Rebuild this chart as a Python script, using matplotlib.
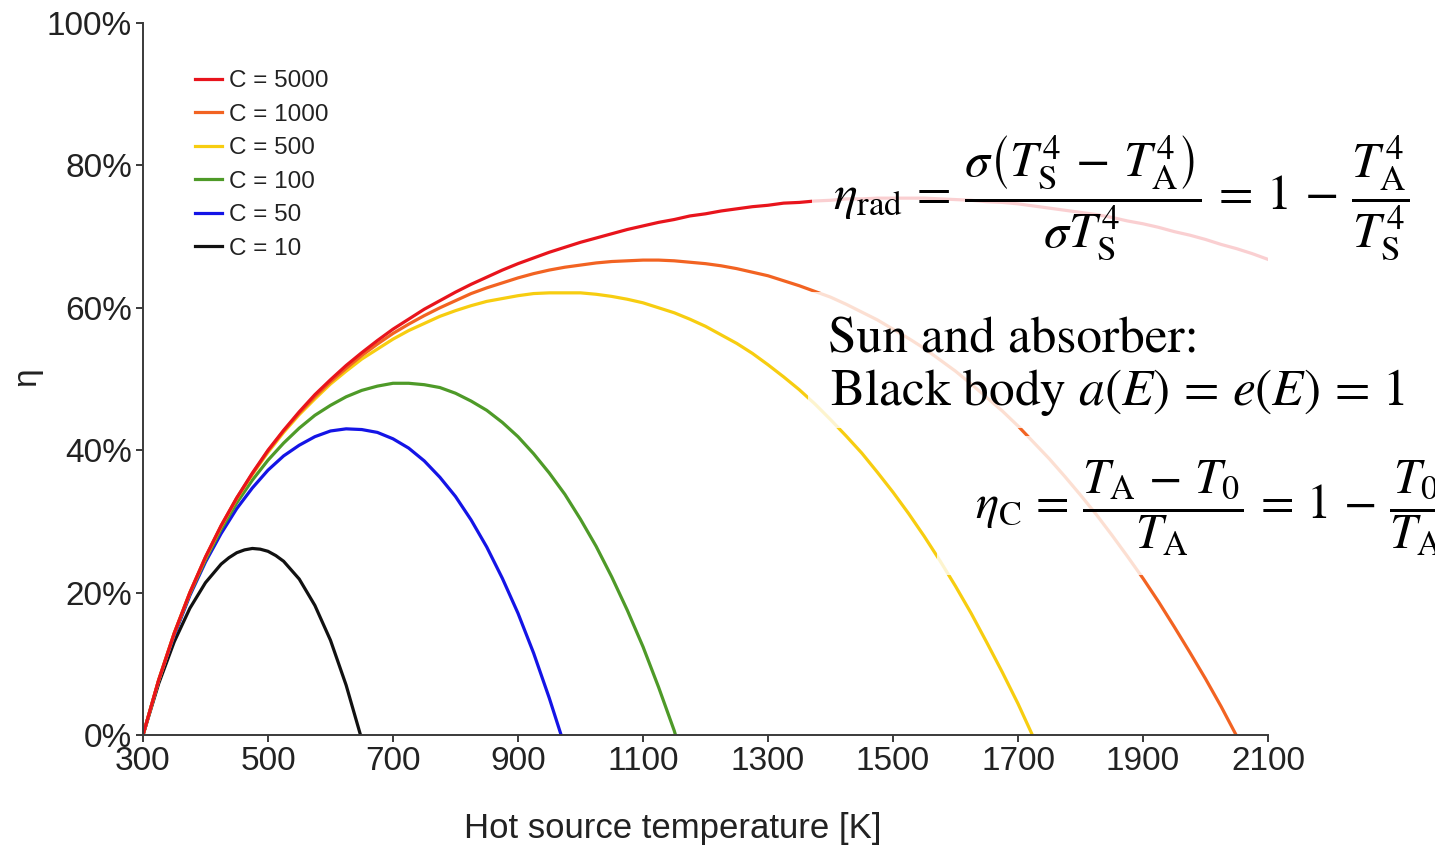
# Overall efficiency of a solar thermal converter vs hot source temperature

import matplotlib
matplotlib.use('Agg')
import matplotlib.pyplot as plt
from matplotlib.ticker import PercentFormatter
from matplotlib.patches import Rectangle

plt.rcParams['font.family'] = ['Liberation Sans', 'DejaVu Sans']
plt.rcParams['mathtext.fontset'] = 'stix'

T_grid = list(range(300, 2101, 25))

eta_5000 = [0, 7.7, 14.3, 20.0, 25.0, 29.4, 33.3, 36.8, 40.0, 42.8, 45.4, 47.8, 49.9, 51.9,
            53.7, 55.4, 57.0, 58.4, 59.8, 61.0, 62.2, 63.3, 64.3, 65.3, 66.2, 67.0, 67.8,
            68.5, 69.2, 69.8, 70.4, 71.0, 71.5, 72.0, 72.4, 72.9, 73.2, 73.6, 73.9, 74.2,
            74.4, 74.7, 74.8, 75.0, 75.1, 75.3, 75.3, 75.4, 75.4, 75.4, 75.4, 75.3, 75.2,
            75.1, 74.9, 74.8, 74.6, 74.3, 74.0, 73.7, 73.4, 73.1, 72.7, 72.2, 71.8, 71.3,
            70.7, 70.2, 69.6, 68.9, 68.3, 67.6, 66.8]
T_5000 = T_grid

eta_1000 = [0, 7.7, 14.3, 20.0, 25.0, 29.4, 33.3, 36.7, 39.9, 42.7, 45.2, 47.5, 49.6, 51.5,
            53.3, 54.9, 56.4, 57.7, 58.9, 60.0, 61.0, 62.0, 62.8, 63.5, 64.2, 64.8, 65.3,
            65.7, 66.0, 66.3, 66.5, 66.6, 66.7, 66.7, 66.6, 66.4, 66.2, 65.9, 65.5, 65.0,
            64.5, 63.8, 63.1, 62.3, 61.5, 60.5, 59.4, 58.3, 57.0, 55.7, 54.3, 52.7, 51.1,
            49.3, 47.4, 45.5, 43.4, 41.1, 38.8, 36.3, 33.7, 31.0, 28.1, 25.1, 22.0, 18.7,
            15.2, 11.6, 7.9, 4.0, 0.0]
T_1000 = T_grid[:70] + [2049]

eta_500 = [0, 7.7, 14.3, 20.0, 24.9, 29.3, 33.2, 36.6, 39.7, 42.5, 45.0, 47.2, 49.3, 51.1,
           52.8, 54.2, 55.6, 56.8, 57.8, 58.8, 59.6, 60.3, 60.9, 61.3, 61.7, 62.0, 62.1,
           62.1, 62.1, 61.9, 61.6, 61.2, 60.7, 60.0, 59.3, 58.4, 57.4, 56.2, 55.0, 53.6,
           52.0, 50.3, 48.5, 46.5, 44.3, 42.0, 39.6, 36.9, 34.1, 31.1, 27.9, 24.5, 20.9,
           17.1, 13.0, 8.8, 4.4, 0.0]
T_500 = T_grid[:57] + [1723]

eta_100 = [0, 7.6, 14.2, 19.8, 24.6, 28.9, 32.6, 35.8, 38.6, 41.0, 43.1, 44.9, 46.3, 47.5,
           48.4, 49.0, 49.4, 49.4, 49.2, 48.8, 48.0, 46.9, 45.6, 43.9, 41.9, 39.5, 36.8,
           33.8, 30.3, 26.5, 22.2, 17.5, 12.4, 6.7, 0.6, 0.0]
T_100 = T_grid[:35] + [1152]

eta_50 = [0, 7.6, 14.0, 19.6, 24.3, 28.3, 31.8, 34.7, 37.2, 39.2, 40.7, 41.9, 42.7, 43.0,
          42.9, 42.5, 41.6, 40.3, 38.5, 36.2, 33.5, 30.2, 26.4, 22.0, 17.1, 11.5, 5.2, 0.0]
T_50 = T_grid[:27] + [969]

T_10 = [300, 325, 350, 375, 400, 425, 437.5, 450, 462.5, 475, 487.5, 500, 512.5, 525,
        550, 575, 600, 625, 648]
eta_10 = [0, 7.2, 13.1, 17.8, 21.4, 24.0, 24.9, 25.6, 26.0, 26.2, 26.1, 25.8, 25.2, 24.4,
          21.9, 18.2, 13.3, 7.0, 0.0]

labels = ['C = 5000', 'C = 1000', 'C = 500', 'C = 100', 'C = 50', 'C = 10']
colors = ['#e8141c', '#f26322', '#f7cd10', '#4e9a28', '#1414e6', '#111111']
temps = [T_5000, T_1000, T_500, T_100, T_50, T_10]
etas = [eta_5000, eta_1000, eta_500, eta_100, eta_50, eta_10]

W, H = 1435, 847
fig = plt.figure(figsize=(W / 100, H / 100), dpi=100)
ax = fig.add_axes([143 / W, 1 - 735 / H, 1125 / W, 712 / H])

lines = []
for T, e, c, lab in zip(temps[::-1], etas[::-1], colors[::-1], labels[::-1]):
    ln, = ax.plot(T, e, color=c, lw=2.3, label=lab, solid_joinstyle='round')
    lines.append(ln)
lines = lines[::-1]

ax.set_xlim(300, 2100)
ax.set_ylim(0, 100)
ax.set_xticks(range(300, 2101, 200))
ax.set_yticks(range(0, 101, 20))
ax.yaxis.set_major_formatter(PercentFormatter(100, decimals=0))
for s in ['top', 'right']:
    ax.spines[s].set_visible(False)
for s in ['left', 'bottom']:
    ax.spines[s].set_color('#3a3a3a')
    ax.spines[s].set_linewidth(1.4)
ax.tick_params(colors='#3a3a3a', labelcolor='#222222', length=5, width=1.4,
               labelsize=24, pad=3)

ax.set_xlabel('Hot source temperature [K]', fontsize=25, color='#222222')
ax.xaxis.set_label_coords((673 - 143) / 1125, (735 - 828) / 712)
ax.xaxis.label.set_va('center')
ax.set_ylabel('η', fontsize=24, color='#222222')
ax.yaxis.set_label_coords((27 - 143) / 1125, (735 - 377) / 712)
ax.yaxis.label.set_va('center')

fig.legend(lines, labels, loc='upper left', bbox_to_anchor=(195 / W, 1 - 70 / H),
           frameon=False, fontsize=17.5, handlelength=1.1, handletextpad=0.3,
           labelspacing=0.475, borderpad=0, borderaxespad=0, labelcolor='#222222')

# semi transparent white boxes behind the formulas
boxes = [(812, 128, 1435, 266), (808, 292, 1420, 428), (937, 436, 1435, 575)]
for x0, y0, x1, y1 in boxes:
    fig.add_artist(Rectangle((x0 / W, 1 - y1 / H), (x1 - x0) / W, (y1 - y0) / H,
                             transform=fig.transFigure, fc='white', ec='none',
                             alpha=0.8, zorder=2))

eq_rad = (r'$\eta_{\mathrm{rad}}\,=\,\dfrac{\sigma\left(T_{\mathrm{S}}^{4}\,-\,T_{\mathrm{A}}^{4}\right)}'
          r'{\sigma T_{\mathrm{S}}^{4}}\,=\,1\,-\,\dfrac{T_{\mathrm{A}}^{4}}{T_{\mathrm{S}}^{4}}$')
# the last fraction runs past the right edge, as in the original slide
eq_c = (r'$\eta_{\mathrm{C}}\,=\,\dfrac{T_{\mathrm{A}}\,-\,T_{0}}{T_{\mathrm{A}}}'
        r'\,=\,1\,-\,\dfrac{T_{0}}{T_{\mathrm{A}}}$')
fig.text(833 / W, 1 - 198 / H, eq_rad, fontsize=36, ha='left', va='center', zorder=3)
fig.text(975 / W, 1 - 508 / H, eq_c, fontsize=35, ha='left', va='center', zorder=3)
fig.text(828 / W, 1 - 352 / H, 'Sun and absorber:', fontsize=37, family='STIXGeneral',
         ha='left', va='baseline', zorder=3)
fig.text(830 / W, 1 - 405 / H, r'Black body $a(E)\,=\,e(E)\,=\,1$', fontsize=37,
         family='STIXGeneral', ha='left', va='baseline', zorder=3)

fig.savefig('out.png', dpi=100)
